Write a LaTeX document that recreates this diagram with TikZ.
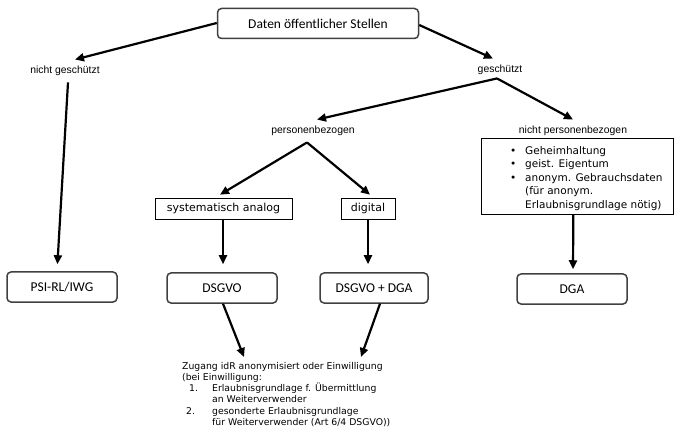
\documentclass[tikz,border=0pt]{standalone}
\usepackage{fontspec}
\setmainfont{DejaVu Sans}
\newfontfamily\carlito{Carlito}
\newfontfamily\arialf{Liberation Sans}
\newfontfamily\verd{DejaVu Sans}
\usetikzlibrary{arrows.meta}
\definecolor{boxgray}{HTML}{404040}
\tikzset{
  rbox/.style={draw=boxgray, line width=1.5pt, rounded corners=4pt, minimum height=30pt, font=\carlito\fontsize{13.5}{15}\selectfont, inner sep=2pt},
  pbox/.style={draw=black, line width=0.6pt, minimum height=21pt, font=\verd\fontsize{11}{12}\selectfont, inner sep=2pt},
  lbl/.style={font=\arialf\fontsize{10.4}{12}\selectfont, inner sep=1pt, text height=7.5pt, text depth=2pt},
  arr/.style={line width=2.2pt, -{Triangle[length=9pt,width=8pt]}}
}
\begin{document}
\begin{tikzpicture}[x=1pt,y=-1pt]
\useasboundingbox (0,0) rectangle (677,430);
\node[rbox, minimum width=201pt] (top) at (318,23.5) {Daten öffentlicher Stellen};
\node[lbl] (ng) at (65,71) {nicht geschützt};
\node[lbl] (gs) at (500,70) {geschützt};
\node[lbl] (pb) at (313,131) {personenbezogen};
\node[lbl] (npb) at (573,131) {nicht personenbezogen};
\node[pbox, minimum width=137pt] (sa) at (223.5,208.5) {systematisch analog};
\node[pbox, minimum width=54pt] (dig) at (368,208.5) {digital};
\node[draw=black, line width=0.6pt, anchor=north west, minimum width=192pt, minimum height=76pt] (npbbox) at (481,138) {};
\node[anchor=north west, inner sep=0pt, font=\verd\fontsize{10.5}{13.5}\selectfont, align=left] (npbtxt) at (510,146)
  {\makebox[15pt][l]{•}Geheimhaltung\\
   \makebox[15pt][l]{•}geist. Eigentum\\
   \makebox[15pt][l]{•}anonym. Gebrauchsdaten\\
   \hspace*{15pt}(für anonym.\\
   \hspace*{15pt}Erlaubnisgrundlage nötig)};
\node[rbox, minimum width=110pt] (psi) at (62,287) {PSI-RL/IWG};
\node[rbox, minimum width=110pt] (dsgvo) at (222,288) {DSGVO};
\node[rbox, minimum width=108pt] (dd) at (374,288) {DSGVO + DGA};
\node[rbox, minimum width=110pt] (dga) at (572,289) {DGA};
\node[anchor=north west, inner sep=0pt, font=\verd\fontsize{9.3}{11.2}\selectfont, align=left] (zug) at (182,362)
  {Zugang idR anonymisiert oder Einwilligung\\
   (bei Einwilligung:\\
   \hspace*{7pt}\makebox[23pt][l]{1.}Erlaubnisgrundlage f. Übermittlung\\
   \hspace*{30pt}an Weiterverwender\\
   \hspace*{4pt}\makebox[26pt][l]{2.}gesonderte Erlaubnisgrundlage\\
   \hspace*{30pt}für Weiterverwender (Art 6/4 DSGVO))};
% connectors
\draw[arr] ([yshift=0.5pt]top.west) -- ([xshift=10pt,yshift=5.5pt]ng.north);
\draw[arr] ([yshift=-1.5pt]top.east) -- ([xshift=-7pt,yshift=5.5pt]gs.north);
\draw[arr] ([xshift=-3pt,yshift=-2.5pt]gs.south) -- ([xshift=4pt,yshift=5.5pt]pb.north);
\draw[arr] ([xshift=-3pt,yshift=-2.5pt]gs.south) -- ([yshift=5.5pt]npb.north);
\draw[arr] ([xshift=-6pt,yshift=-5.5pt]pb.south) -- ([xshift=-3.5pt,yshift=3pt]sa.north);
\draw[arr] ([xshift=-6pt,yshift=-5.5pt]pb.south) -- ([xshift=2pt,yshift=3pt]dig.north);
\draw[arr, shorten >=7pt] ([xshift=3pt,yshift=-5.5pt]ng.south) -- ([xshift=-5pt]psi.north);
\draw[arr, shorten >=8pt] ([xshift=-0.5pt]sa.south) -- ([xshift=1pt]dsgvo.north);
\draw[arr, shorten >=8pt] (dig.south) -- ([xshift=-6pt]dd.north);
\draw[arr, shorten >=4pt] ([xshift=-4pt]npbbox.south) -- ([xshift=1pt]dga.north);
\draw[arr] ([xshift=1pt]dsgvo.south) -- ([xshift=62pt,yshift=5pt]zug.north west);
\draw[arr] ([xshift=6pt]dd.south) -- ([xshift=179pt,yshift=5pt]zug.north west);
\end{tikzpicture}
\end{document}
